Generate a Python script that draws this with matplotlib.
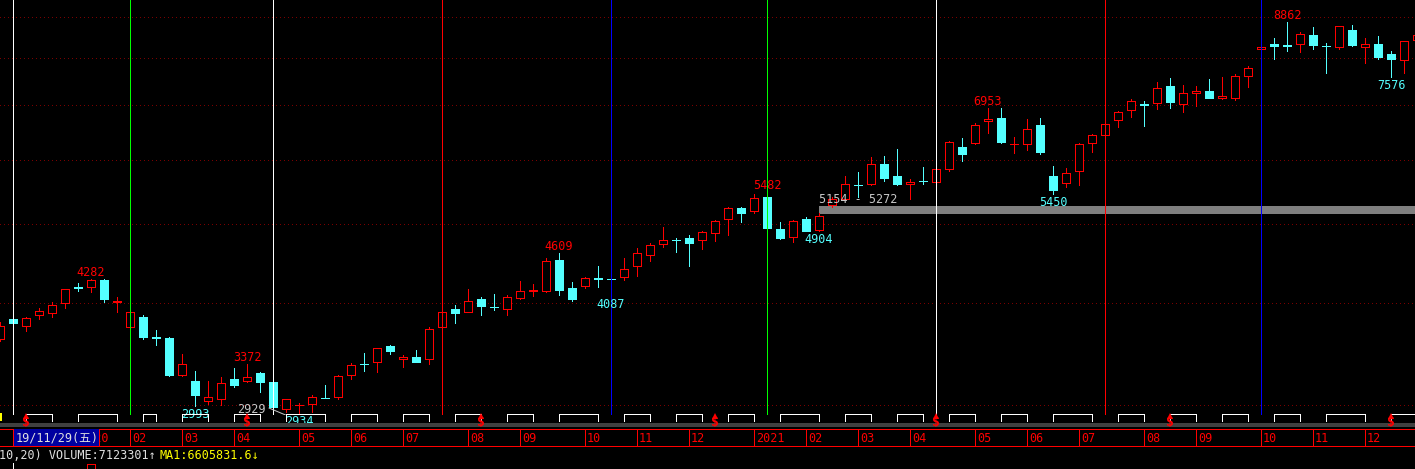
"""
Weekly K-line chart on a log price scale, drawn in the dark trading-terminal style.
"""
import matplotlib
matplotlib.use("Agg")
import matplotlib.pyplot as plt
from matplotlib.patches import Rectangle
from matplotlib.transforms import Bbox
import numpy as np

plt.rcParams["font.family"] = ["DejaVu Sans Mono", "Noto Sans CJK SC"]

# ── Colours ───────────────────────────────────────────────────────────────────
C = {
    "bg": "#000000", "up": "#ff0000", "down": "#54ffff", "grid": "#7a0000",
    "text": "#e0e0e0", "muted": "#c8c8c8", "band": "#7f7f7f", "strip": "#404040",
    "box": "#0000a0", "yellow": "#ffff00", "white": "#ffffff",
}
PX = 0.72  # one pixel at dpi 100, in points

# ── Data: weekly candles ──────────────────────────────────────────────────────
opens = [3620, 3827, 3752, 3872, 3890, 4001, 4190, 4193, 4273, 4012,
         3741, 3848, 3636, 3627, 3266, 3212, 3038, 3055, 3230, 3209,
         3285, 3203, 2965, 2998, 3013, 3063, 3073, 3269, 3372, 3392,
         3543, 3418, 3437, 3421, 3741, 3937, 3900, 4050, 3962, 3941,
         4065, 4142, 4146, 4522, 4176, 4205, 4292, 4290, 4306, 4442,
         4581, 4726, 4788, 4808, 4790, 4877, 5073, 5237, 5198, 5404,
         4936, 4830, 5077, 4919, 5280, 5377, 5590, 5609, 5935, 5735,
         5609, 5656, 5643, 5850, 6224, 6288, 6692, 6754, 6270, 6270,
         6622, 5730, 5626, 5813, 6299, 6437, 6711, 6904, 7024, 7043,
         7396, 7035, 7245, 7291, 7157, 7157, 7617, 8203, 8328, 8312,
         8321, 8540, 8280, 8247, 8655, 8247, 8328, 8092, 7950, 8417]
highs = [3790, 3840, 3851, 3945, 4018, 4170, 4234, 4282, 4280, 4077,
         3915, 3870, 3710, 3633, 3466, 3303, 3212, 3251, 3329, 3372,
         3294, 3210, 3055, 3021, 3084, 3177, 3264, 3376, 3476, 3530,
         3560, 3456, 3506, 3742, 3915, 3978, 4165, 4073, 4106, 4093,
         4261, 4225, 4547, 4609, 4249, 4313, 4447, 4330, 4553, 4673,
         4748, 4962, 4808, 4854, 4905, 5063, 5256, 5256, 5449, 5482,
         5035, 5063, 5106, 5160, 5400, 5735, 5793, 6046, 6068, 6189,
         5685, 5881, 5860, 6329, 6377, 6654, 6953, 6940, 6395, 6736,
         6760, 5898, 5865, 6288, 6455, 6660, 6892, 7122, 7088, 7486,
         7560, 7414, 7396, 7538, 7580, 7652, 7822, 8250, 8466, 8862,
         8613, 8738, 8351, 8760, 8787, 8466, 8514, 8161, 8410, 8600]
lows = [3600, 3770, 3703, 3827, 3851, 3953, 4143, 4135, 4016, 3900,
        3730, 3617, 3556, 3260, 3257, 2993, 3010, 3000, 3161, 3205,
        3116, 2970, 2945, 2934, 2945, 3060, 3055, 3233, 3307, 3298,
        3469, 3344, 3390, 3373, 3730, 3788, 3898, 3875, 3926, 3875,
        4050, 4088, 4135, 4098, 4030, 4181, 4193, 4087, 4270, 4326,
        4513, 4686, 4629, 4450, 4665, 4776, 4857, 5039, 5160, 4940,
        4804, 4763, 4910, 4904, 5260, 5360, 5406, 5586, 5660, 5586,
        5368, 5609, 5630, 5823, 5987, 6280, 6470, 6288, 6120, 6176,
        6107, 5450, 5563, 5591, 6143, 6400, 6580, 6769, 6610, 6924,
        6956, 6876, 6996, 7150, 7130, 7108, 7380, 8200, 7978, 8158,
        8136, 8203, 7680, 8203, 8283, 7900, 7978, 7576, 7680, 8380]
closes = [3750, 3785, 3838, 3915, 3986, 4162, 4183, 4270, 4050, 4022,
          3904, 3640, 3630, 3266, 3369, 3087, 3070, 3190, 3178, 3246,
          3206, 2987, 3050, 3005, 3070, 3060, 3257, 3357, 3366, 3523,
          3499, 3440, 3392, 3720, 3904, 3891, 4027, 3971, 3958, 4070,
          4139, 4150, 4505, 4154, 4054, 4293, 4286, 4286, 4409, 4618,
          4713, 4781, 4782, 4748, 4895, 5049, 5232, 5169, 5388, 4954,
          4817, 5049, 4912, 5120, 5377, 5600, 5582, 5929, 5707, 5609,
          5637, 5650, 5846, 6306, 6107, 6617, 6730, 6311, 6282, 6543,
          6138, 5516, 5778, 6270, 6432, 6641, 6866, 7088, 7018, 7350,
          7074, 7245, 7291, 7157, 7184, 7617, 7787, 8247, 8276, 8276,
          8564, 8312, 8272, 8755, 8312, 8328, 8023, 7978, 8396, 8540]

# zig-zag pivot labels
peak_idx = [7, 19, 43, 59, 76, 99]
peak_val = [4282, 3372, 4609, 5482, 6953, 8862]
trough_idx = [15, 23, 47, 63, 81, 107]
trough_val = [2993, 2934, 4087, 4904, 5450, 7576]

# time-cycle lines
cycle_idx = [1, 10, 21, 34, 47, 59, 72, 85, 97]
cycle_col = ["#ffffff", "#00ff00", "#ffffff", "#ff0000", "#0000ff",
             "#00ff00", "#ffffff", "#ff0000", "#0000ff"]

grid_prices = [3000, 4000, 5000, 6000, 7000, 8000, 9000]

# price band
band_lo, band_hi, band_start = 5154, 5272, 63

# date axis
month_idx = [6, 10, 14, 18, 23, 27, 31, 36, 40, 45, 49, 53,
             58, 62, 66, 70, 75, 79, 83, 88, 92, 97, 101, 105]
month_lbl = ["2020", "02", "03", "04", "05", "06", "07", "08", "09", "10", "11", "12",
             "2021", "02", "03", "04", "05", "06", "07", "08", "09", "10", "11", "12"]
cursor_date = "19/11/29(五)"

# bracket strip and signal marks
bracket_start = [2, 6, 11, 14, 18, 22, 27, 31, 35, 39, 43, 48, 52,
                 56, 60, 65, 69, 73, 77, 81, 86, 90, 94, 98, 102, 107]
bracket_end = [4, 9, 12, 16, 20, 25, 29, 33, 37, 41, 46, 50, 54,
               58, 63, 67, 71, 75, 79, 84, 88, 92, 96, 100, 105, 109]
signal_idx = [2, 19, 37, 55, 72, 90, 107]

status_vol = "10,20) VOLUME:7123301↑"
status_ma = "MA1:6605831.6↓"

# ── Figure ────────────────────────────────────────────────────────────────────
W, H = 1415, 469
MAIN_H = 415
XMAX = W / 13
FS = 8.5
BOX_R = 98.5  # right edge of the cursor-date box, px

fig = plt.figure(figsize=(W / 100, H / 100), dpi=100)
fig.patch.set_facecolor(C["bg"])

ax = fig.add_axes([0, 1 - MAIN_H / H, 1, MAIN_H / H])
ax.set_facecolor(C["bg"])
ax.set_yscale("log")
ax.set_xlim(0, XMAX)
ax.set_ylim(2917.3, 9430.8)
ax.axis("off")

for p in grid_prices:
    ax.axhline(p, color=C["grid"], lw=PX, ls=(0, (1, 3)), zorder=1, antialiased=False)

x = np.arange(len(opens))
o, h, l, c = (np.array(v, dtype=float) for v in (opens, highs, lows, closes))
up = c >= o
lo_b = np.minimum(o, c)
hi_b = np.maximum(o, c)
bw = 8 / 13

# falling weeks: solid cyan
dn = ~up
ax.vlines(x[dn], l[dn], h[dn], color=C["down"], lw=PX, zorder=2, antialiased=False)
ax.bar(x[dn], hi_b[dn] - lo_b[dn], bottom=lo_b[dn], width=bw,
       color=C["down"], edgecolor=C["down"], lw=PX, zorder=2, antialiased=False)
# rising weeks: hollow red
ax.vlines(x[up], hi_b[up], h[up], color=C["up"], lw=PX, zorder=2, antialiased=False)
ax.vlines(x[up], l[up], lo_b[up], color=C["up"], lw=PX, zorder=2, antialiased=False)
ax.bar(x[up], hi_b[up] - lo_b[up], bottom=lo_b[up], width=bw,
       facecolor=C["bg"], edgecolor=C["up"], lw=PX, zorder=2, antialiased=False)

# price band with its bounds
ax.fill_between([band_start, XMAX], band_lo, band_hi, color=C["band"], lw=0, zorder=1.5)
ax.annotate(f"{band_lo} - {band_hi}", (band_start, band_hi), xytext=(0, 2.5),
            textcoords="offset pixels", ha="left", va="baseline",
            color=C["muted"], fontsize=FS, zorder=4)

for i, col in zip(cycle_idx, cycle_col):
    ax.axvline(i, color=col, lw=PX, zorder=3, antialiased=False)

for i, v in zip(peak_idx, peak_val):
    ax.annotate(str(v), (i, v), xytext=(0, 3), textcoords="offset pixels",
                ha="center", va="baseline", color=C["up"], fontsize=FS,
                zorder=4, annotation_clip=False)
for i, v in zip(trough_idx, trough_val):
    ax.annotate(str(v), (i, v), xytext=(0, -2), textcoords="offset pixels",
                ha="center", va="top", color=C["down"], fontsize=FS,
                zorder=4, annotation_clip=False)

# older low annotation pointing at the final low
ax.annotate("2929", (19.35, 2929), xytext=(0, 1), textcoords="offset pixels",
            ha="center", va="baseline", color=C["muted"], fontsize=FS, zorder=4)
ax.plot([20.7, 21.95], [2975, 2918], color=C["muted"], lw=PX, zorder=4)

# ── Bottom strip (pixel rows) ─────────────────────────────────────────────────
ov = fig.add_axes([0, 0, 1, 1])
ov.set_xlim(0, XMAX)
ov.set_ylim(H, 0)
ov.set_facecolor("none")
ov.axis("off")

for s, e in zip(bracket_start, bracket_end):
    ov.plot([s, s, e, e], [421.5, 414.5, 414.5, 421.5], color=C["white"], lw=PX,
            antialiased=False)
ov.add_patch(Rectangle((0, 413.5), 2 / 13, 8, color=C["yellow"], lw=0))
ov.axhspan(422.7, 427.3, color=C["strip"], lw=0)

for i in signal_idx:
    ov.text(i, 422.5, "$", color=C["up"], fontsize=9.5, fontweight="bold",
            ha="center", va="center")
    ov.plot(i, 416, marker="^", ms=4, color=C["up"], mew=0)

ov.axhline(428.7, color=C["up"], lw=PX, antialiased=False)
ov.axhline(446.2, color=C["up"], lw=PX, antialiased=False)
ov.vlines(month_idx, 428.7, 446.2, color=C["up"], lw=PX, antialiased=False)
for i, lbl in zip(month_idx, month_lbl):
    t = ov.text(i + 2 / 13, 438, lbl, color=C["up"], fontsize=FS, ha="left", va="center")
    if i * 13 < BOX_R:
        # the part hidden under the date box is not drawn
        t.set_clip_box(Bbox([[BOX_R + 1, 0], [W, H]]))

# cursor date box over the first label
ov.add_patch(Rectangle((1, 429.2), BOX_R / 13 - 1, 16.5, color=C["box"], lw=0, zorder=3))
ov.vlines([1, BOX_R / 13], 428.7, 446.2, color=C["up"], lw=PX, zorder=3, antialiased=False)
ov.text(16 / 13, 438, cursor_date, color=C["text"], fontsize=FS,
        ha="left", va="center", zorder=4)

# status line
ov.text(-0.1, 455.5, status_vol, color=C["text"], fontsize=FS, ha="left", va="center")
ov.text(160 / 13, 455.5, status_ma, color=C["yellow"], fontsize=FS, ha="left", va="center")

# top edge of the volume pane
ov.vlines(1, 463, H, color=C["white"], lw=PX, antialiased=False)
ov.add_patch(Rectangle((7 - bw / 2, 464.5), bw, 6, facecolor="none",
                       edgecolor=C["up"], lw=PX, antialiased=False))

fig.savefig("out.png", dpi=100, facecolor=C["bg"])
